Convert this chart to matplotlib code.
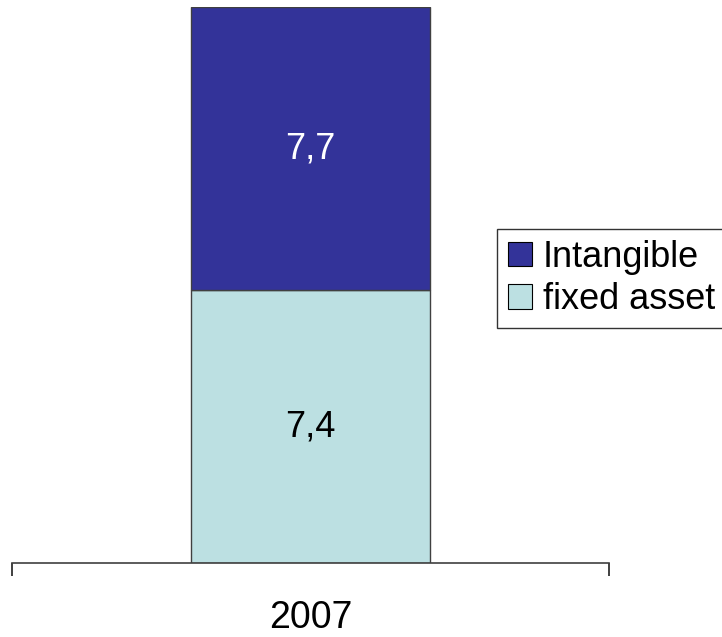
import matplotlib
matplotlib.use("Agg")
import matplotlib.pyplot as plt
from matplotlib.patches import Patch

# ── Data ─────────────────────────────────────────────────────────────────────
years        = ["2007"]
fixed_asset  = [7.4]
intangible   = [7.7]
value_labels = ["7,4", "7,7"]

FIXED_COL = "#bce0e2"
INTAN_COL = "#333399"

plt.rcParams["font.family"] = ["Liberation Sans", "DejaVu Sans"]

# ── Figure ───────────────────────────────────────────────────────────────────
fig = plt.figure(figsize=(7.22, 6.37), dpi=100, facecolor="white")
ax = fig.add_axes([12 / 722, 74.3 / 637, 597 / 722, 555.7 / 637])

x = range(len(years))
ax.bar(x, fixed_asset, width=0.402, color=FIXED_COL,
       edgecolor="#404040", linewidth=1.0, zorder=2)
ax.bar(x, intangible, width=0.402, bottom=fixed_asset, color=INTAN_COL,
       edgecolor="#404040", linewidth=1.0, zorder=2)

# values written in the middle of each segment
for i in x:
    ax.text(i, fixed_asset[i] / 2, value_labels[0], ha="center", va="center",
            fontsize=26, color="black")
    ax.text(i, fixed_asset[i] + intangible[i] / 2, value_labels[1],
            ha="center", va="center", fontsize=26, color="white")

ax.set_xlim(-0.5, 0.5)
ax.set_ylim(0, fixed_asset[0] + intangible[0])

for side in ("left", "right", "top"):
    ax.spines[side].set_visible(False)
ax.spines["bottom"].set_color("#404040")
ax.spines["bottom"].set_linewidth(1.2)
ax.set_yticks([])

ax.set_xticks(list(x))
ax.set_xticklabels(years, fontsize=27)
ax.tick_params(axis="x", which="major", length=0, pad=27)
ax.set_xticks([-0.5, 0.5], minor=True)
ax.tick_params(axis="x", which="minor", length=9.5, width=1.2,
               color="#202020", direction="out")

handles = [Patch(facecolor=INTAN_COL, edgecolor="black", linewidth=0.8),
           Patch(facecolor=FIXED_COL, edgecolor="black", linewidth=0.8)]
leg = fig.legend(handles, ["Intangible", "fixed asset"],
                 loc="upper left", bbox_to_anchor=(497 / 722, 1 - 229 / 637),
                 fontsize=26, frameon=True, fancybox=False,
                 handlelength=0.67, handleheight=0.67, handletextpad=0.3,
                 labelspacing=0.2, borderpad=0.3, borderaxespad=0)
leg.get_frame().set_edgecolor("black")
leg.get_frame().set_linewidth(1.0)

# note running off the right edge
fig.text(719 / 722, 1 - 592 / 637, "Md", fontsize=24, va="top", ha="left")

fig.savefig("out.png", dpi=100, facecolor="white")
